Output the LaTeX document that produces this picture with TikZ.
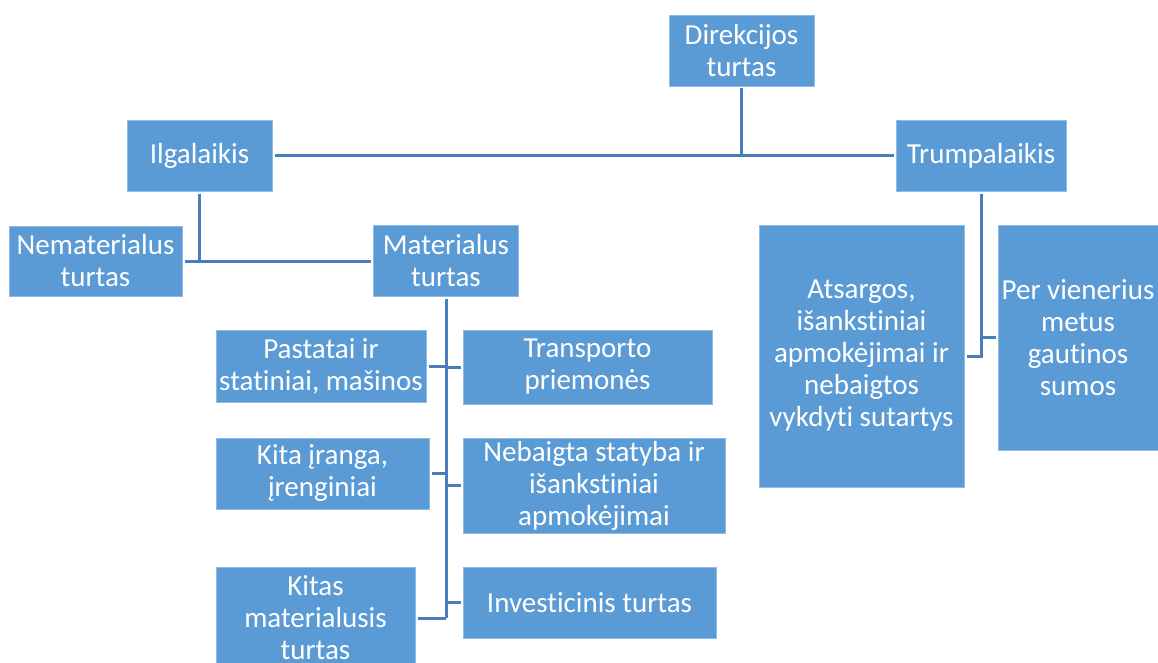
\documentclass[tikz,border=0pt]{standalone}
\usepackage{fontspec}
\setmainfont{Carlito}[Ligatures=NoCommon]
\definecolor{boxblue}{HTML}{5B9BD5}
\definecolor{boxedge}{HTML}{8FBBE6}
\definecolor{linkblue}{HTML}{4A7EBB}
\begin{document}
\begin{tikzpicture}[x=1pt,y=-1pt,
  box/.style={fill=boxblue, draw=boxedge, line width=0.8pt, text=white,
    inner sep=0pt, outer sep=2.5pt, align=center,
    font=\fontsize{29}{32}\selectfont},
  link/.style={draw=linkblue, line width=3pt}]
\clip (0,0) rectangle (1158,663);
\fill[white] (0,0) rectangle (1158,663);

\node[box, minimum width=145pt, minimum height=71pt] (dir) at (741.5,50.5) {Direkcijos\\turtas};
\node[box, minimum width=145pt, minimum height=71pt] (ilg) at (199.5,155.5) {Ilgalaikis};
\node[box, minimum width=170pt, minimum height=71pt] (trump) at (981,155.5) {Trumpalaikis};
\node[box, minimum width=173pt, minimum height=70pt] (nemat) at (95.5,261) {Nematerialus\\turtas};
\node[box, minimum width=145pt, minimum height=71pt] (mat) at (446,261) {Materialus\\turtas};
\node[box, minimum width=210pt, minimum height=72pt] (past) at (321,366) {Pastatai ir\\statiniai, mašinos};
\node[box, minimum width=213pt, minimum height=71pt] (kita) at (322.5,473.5) {Kita įranga,\\įrenginiai};
\node[box, minimum width=199pt, minimum height=102pt] (kitas) at (315.5,618) {Kitas\\materialusis\\turtas};
\node[box, minimum width=249pt, minimum height=74pt] (trans) at (587.5,367) {Transporto\\priemonės};
\node[box, minimum width=262pt, minimum height=95pt] (neb) at (594,485.5) {Nebaigta statyba ir\\išankstiniai\\apmokėjimai};
\node[box, minimum width=253pt, minimum height=71pt] (inv) at (589.5,602.5) {Investicinis turtas};
\node[box, minimum width=205pt, minimum height=262pt] (ats) at (861.5,356) {Atsargos,\\išankstiniai\\apmokėjimai ir\\nebaigtos\\vykdyti sutartys};
\node[box, minimum width=160pt, minimum height=225pt] (per) at (1078,337.5) {Per vienerius\\metus\\gautinos\\sumos};

% top level
\coordinate (jtop) at (dir.south |- ilg.east);
\draw[link] (dir.south) -- (jtop);
\draw[link] (ilg.east) -- (trump.west);

% Ilgalaikis branch
\coordinate (jilg) at (ilg.south |- nemat.east);
\draw[link] (ilg.south) -- (jilg);
\draw[link] (nemat.east) -- (mat.west);

% Materialus spine
\coordinate (spend) at (mat.south |- kitas.east);
\draw[link] (mat.south) -- (spend);
\draw[link] (past.east) -- (past.east -| mat.south);
\draw[link] (kita.east) -- (kita.east -| mat.south);
\draw[link] (kitas.east) -- (spend);
\draw[link] (trans.west -| mat.south) -- (trans.west);
\draw[link] (neb.west -| mat.south) -- (neb.west);
\draw[link] (inv.west -| mat.south) -- (inv.west);

% Trumpalaikis branch
\coordinate (tend) at (trump.south |- ats.east);
\draw[link] (trump.south) -- (tend) -- (ats.east);
\draw[link] (trump.south |- per.west) -- (per.west);
\end{tikzpicture}
\end{document}
